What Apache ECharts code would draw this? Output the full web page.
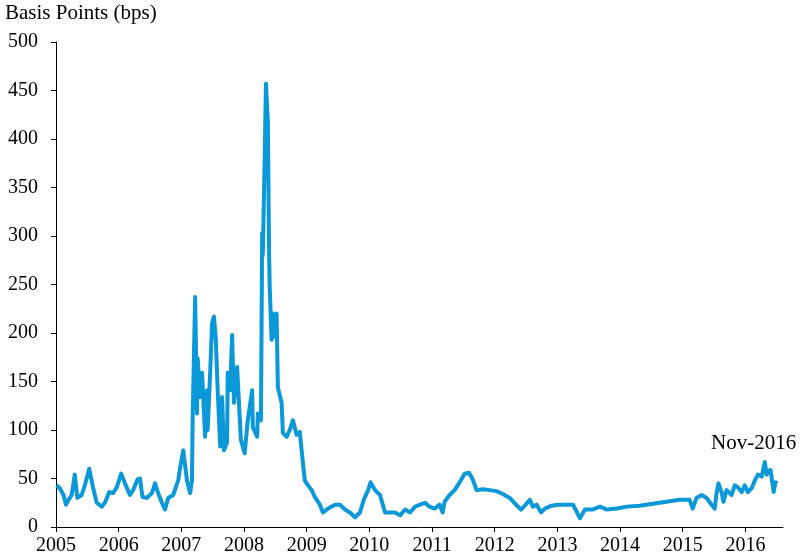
<!DOCTYPE html>
<html>
<head>
<meta charset="utf-8">
<script src="https://cdn.jsdelivr.net/npm/echarts@6/dist/echarts.min.js"></script>
<style>html,body{margin:0;padding:0;background:#fff}#c{width:800px;height:559px}</style>
</head>
<body>
<div id="c"></div>
<script>
// Decimal year and spread in basis points
const dates = [2005.01,2005.06,2005.12,2005.16,2005.20,2005.25,2005.30,2005.34,2005.41,2005.46,2005.53,2005.59,2005.65,2005.73,2005.78,2005.85,2005.91,2005.97,
2006.04,2006.10,2006.18,2006.23,2006.30,2006.34,2006.38,2006.45,2006.53,2006.58,2006.63,2006.69,2006.74,2006.79,2006.87,2006.95,2006.98,
2007.03,2007.09,2007.14,2007.17,2007.18,2007.22,2007.25,2007.26,2007.30,2007.33,2007.38,2007.41,2007.42,2007.46,2007.49,2007.52,2007.55,2007.58,2007.62,2007.65,2007.68,2007.73,2007.74,2007.78,2007.81,2007.84,2007.89,2007.90,2007.95,
2008.01,2008.06,2008.13,2008.14,2008.21,2008.22,2008.27,2008.29,2008.30,2008.33,2008.35,2008.37,2008.38,2008.40,2008.41,2008.44,2008.46,2008.49,2008.52,2008.54,2008.60,2008.62,2008.68,2008.73,2008.78,2008.84,2008.89,2008.94,2008.97,
2009.02,2009.08,2009.13,2009.16,2009.21,2009.26,2009.34,2009.45,2009.53,2009.61,2009.69,2009.77,2009.85,2009.91,2009.98,
2010.02,2010.09,2010.17,2010.25,2010.33,2010.41,2010.49,2010.57,2010.65,2010.73,2010.81,2010.89,2010.96,
2011.04,2011.12,2011.17,2011.20,2011.28,2011.36,2011.44,2011.52,2011.59,2011.65,2011.71,2011.81,2011.92,
2012.03,2012.13,2012.24,2012.34,2012.42,2012.48,2012.56,2012.61,2012.67,2012.74,2012.80,2012.91,
2013.01,2013.12,2013.25,2013.36,2013.44,2013.56,2013.68,2013.79,2013.95,
2014.11,2014.31,2014.52,2014.74,2014.95,
2015.11,2015.16,2015.22,2015.30,2015.38,2015.46,2015.51,2015.54,2015.57,2015.62,2015.65,2015.70,2015.78,2015.83,2015.88,2015.94,2015.99,
2016.04,2016.10,2016.15,2016.20,2016.26,2016.31,2016.34,2016.36,2016.40,2016.44,2016.45,2016.48,2016.51];
const spread = [43,40,33,23,28,33,54,30,33,43,60,41,25,21,25,36,35,41,
55,45,33,38,49,50,31,30,35,45,35,25,18,30,33,48,61,
79,48,35,48,110,237,117,174,134,159,93,141,100,159,210,217,193,141,83,134,79,87,159,141,198,128,165,152,90,
76,110,141,103,93,117,110,303,280,381,457,430,420,282,247,193,220,196,220,144,128,97,93,100,110,95,98,66,48,
43,38,31,28,23,15,19,23,23,18,15,10,15,28,38,
46,38,33,15,15,15,12,18,15,21,23,25,21,
19,23,15,26,33,38,46,55,56,49,38,39,38,
37,34,30,23,18,22,28,21,23,15,19,22,
23,23,23,9,18,18,21,18,19,
21,22,24,26,28,
28,19,30,33,30,23,19,35,45,36,26,38,33,43,41,36,43,
36,40,48,54,52,67,54,57,59,41,36,46,45];
const yearTicks = [2005,2006,2007,2008,2009,2010,2011,2012,2013,2014,2015,2016];
const yAxisTitle = 'Basis Points (bps)';
const endLabel = 'Nov-2016';

const chart = echarts.init(document.getElementById('c'), null, {renderer: 'canvas'});
const font = '"Liberation Serif","Times New Roman",serif';
chart.setOption({
  animation: false,
  backgroundColor: '#ffffff',
  grid: {left: 56, right: 17, top: 42, bottom: 32, containLabel: false},
  xAxis: {
    type: 'value', min: 2005, max: 2016.6,
    axisLine: {show: true, lineStyle: {color: '#000', width: 1}},
    axisTick: {show: true, length: 5, customValues: yearTicks, lineStyle: {color: '#000'}},
    axisLabel: {customValues: yearTicks, margin: 9, color: '#000', fontFamily: font, fontSize: 20, formatter: v => String(Math.round(v))},
    splitLine: {show: false}
  },
  yAxis: {
    type: 'value', min: 0, max: 500, interval: 50,
    axisLine: {show: true, lineStyle: {color: '#000', width: 1}},
    axisTick: {show: true, length: 5, lineStyle: {color: '#000'}},
    axisLabel: {margin: 18, color: '#000', fontFamily: font, fontSize: 20},
    splitLine: {show: false}
  },
  graphic: [
    {type: 'text', left: 5, top: 3, style: {text: yAxisTitle, font: '21px ' + font, fill: '#000'}},
    {type: 'text', left: 711, top: 433, style: {text: endLabel, font: '21px ' + font, fill: '#000'}}
  ],
  series: [{
    type: 'line', showSymbol: false, symbol: 'none',
    data: dates.map((d, i) => [d, spread[i]]),
    lineStyle: {color: '#0b98d8', width: 4, join: 'round'},
    itemStyle: {color: '#0b98d8'}
  }]
});
</script>
</body>
</html>
